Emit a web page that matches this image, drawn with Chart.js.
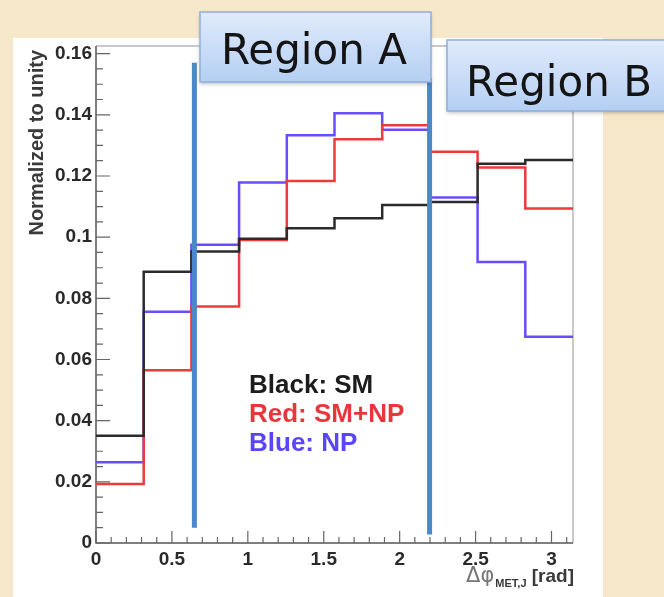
<!DOCTYPE html>
<html>
<head>
<meta charset="utf-8">
<script src="https://cdn.jsdelivr.net/npm/chart.js@4.4.1/dist/chart.umd.min.js"></script>
<style>
  html, body { margin: 0; padding: 0; background: #f8e8cb; }
  canvas { display: block; }
</style>
</head>
<body>
<canvas id="grafico" width="664" height="597"></canvas>
<script>
// histogram binning: 10 bins from 0 to pi
const nBins = 10;
const xMax = Math.PI;

// bin contents (normalized to unity)
const smValues   = [0.0351, 0.0887, 0.0953, 0.0995, 0.1029, 0.1062, 0.1105, 0.1115, 0.1240, 0.1252];
const smNpValues = [0.0193, 0.0565, 0.0773, 0.0991, 0.1184, 0.1320, 0.1366, 0.1279, 0.1228, 0.1094];
const npValues   = [0.0264, 0.0756, 0.0975, 0.1179, 0.1333, 0.1405, 0.1351, 0.1130, 0.0919, 0.0674];

// axis ticks
const xTickValues = [0, 0.5, 1, 1.5, 2, 2.5, 3];
const xTickLabels = ['0', '0.5', '1', '1.5', '2', '2.5', '3'];
const yTickValues = [0, 0.02, 0.04, 0.06, 0.08, 0.1, 0.12, 0.14, 0.16];
const yTickLabels = ['0', '0.02', '0.04', '0.06', '0.08', '0.1', '0.12', '0.14', '0.16'];

// region boundaries (x in rad)
const regionCuts = [0.648, 2.197];

const legendLines = [
  { text: 'Black: SM', color: '#1c1c1c' },
  { text: 'Red: SM+NP', color: '#e8363c' },
  { text: 'Blue: NP', color: '#5b46f5' }
];

const binW = xMax / nBins;

// turns bin contents into step points (left edges + closing point at xMax)
function pontosHisto(valores) {
  const pts = valores.map((v, i) => ({ x: i * binW, y: v }));
  pts.push({ x: xMax, y: valores[valores.length - 1] });
  return pts;
}

const fundo = {
  id: 'fundo',
  beforeDraw(chart) {
    const c = chart.ctx;
    c.save();
    c.fillStyle = '#f8e8cb';
    c.fillRect(0, 0, chart.width, chart.height);
    c.fillStyle = '#ffffff';
    c.fillRect(13, 38, 590, 559);
    c.restore();
  }
};

const moldura = {
  id: 'moldura',
  beforeDatasetsDraw(chart) {
    const c = chart.ctx;
    const a = chart.chartArea;
    const xs = chart.scales.x, ys = chart.scales.y;
    c.save();
    // top / right frame (light)
    c.strokeStyle = '#c9c9c9';
    c.lineWidth = 2;
    c.beginPath();
    c.moveTo(a.left, a.top); c.lineTo(a.right, a.top); c.lineTo(a.right, a.bottom);
    c.stroke();
    // axes
    c.strokeStyle = '#555';
    c.lineWidth = 1.5;
    c.beginPath();
    c.moveTo(a.left, a.top); c.lineTo(a.left, a.bottom); c.lineTo(a.right, a.bottom);
    c.stroke();
    // ticks inside the frame
    c.lineWidth = 1.2;
    c.strokeStyle = '#666';
    c.beginPath();
    for (let k = 0; k <= 31; k++) {
      const v = k * 0.1;
      if (v > xMax) break;
      const px = xs.getPixelForValue(v);
      const len = (k % 5 === 0) ? 12 : 6;
      c.moveTo(px, a.bottom); c.lineTo(px, a.bottom - len);
    }
    for (let k = 0; k <= 32; k++) {
      const v = k * 0.005;
      if (v > ys.max) break;
      const py = ys.getPixelForValue(v);
      const len = (k % 4 === 0) ? 14 : 7;
      c.moveTo(a.left, py); c.lineTo(a.left + len, py);
    }
    c.stroke();
    c.restore();
  }
};

function caixa(c, x, y, w, h, texto, tx, ty) {
  c.save();
  c.shadowColor = 'rgba(0,0,0,0.25)';
  c.shadowBlur = 4;
  c.shadowOffsetY = 2;
  const g = c.createLinearGradient(0, y, 0, y + h);
  g.addColorStop(0, '#e1ebfb');
  g.addColorStop(1, '#b4cff3');
  c.fillStyle = g;
  c.fillRect(x, y, w, h);
  c.shadowColor = 'transparent';
  c.strokeStyle = '#8eaedb';
  c.lineWidth = 1.5;
  c.strokeRect(x, y, w, h);
  c.fillStyle = '#141414';
  c.font = '42px "DejaVu Sans"';
  c.textAlign = 'left';
  c.textBaseline = 'alphabetic';
  c.fillText(texto, tx, ty);
  c.restore();
}

const anotacoes = {
  id: 'anotacoes',
  afterDraw(chart) {
    const c = chart.ctx;
    const a = chart.chartArea;
    const xs = chart.scales.x, ys = chart.scales.y;
    c.save();

    // region boundary lines
    c.strokeStyle = '#4a88c6';
    c.lineWidth = 5;
    c.beginPath();
    const x1 = xs.getPixelForValue(regionCuts[0]);
    c.moveTo(x1, ys.getPixelForValue(0.157)); c.lineTo(x1, ys.getPixelForValue(0.005));
    const x2 = xs.getPixelForValue(regionCuts[1]);
    c.moveTo(x2, ys.getPixelForValue(0.152)); c.lineTo(x2, ys.getPixelForValue(0.0028));
    c.stroke();

    // legend text
    c.font = 'bold 26px "Liberation Sans"';
    c.textAlign = 'left';
    c.textBaseline = 'alphabetic';
    legendLines.forEach((l, i) => {
      c.fillStyle = l.color;
      c.fillText(l.text, 249, 393 + i * 29);
    });

    // y axis title
    c.save();
    c.translate(37, 50);
    c.rotate(-Math.PI / 2);
    c.font = 'bold 20px "Liberation Sans"';
    c.fillStyle = '#3a3a3a';
    c.textAlign = 'right';
    c.textBaseline = 'middle';
    c.fillText('Normalized to unity', 0, 0);
    c.restore();

    // x axis title, right aligned to frame
    const base = 582;
    let xr = a.right + 1;
    c.textAlign = 'right';
    c.textBaseline = 'alphabetic';
    c.fillStyle = '#3a3a3a';
    c.font = 'bold 19px "Liberation Sans"';
    c.fillText(' [rad]', xr, base);
    xr -= c.measureText(' [rad]').width;
    c.font = 'bold 11px "Liberation Sans"';
    c.fillText('MET,J', xr, base + 5);
    xr -= c.measureText('MET,J').width + 1;
    c.font = '21px "DejaVu Sans"';
    c.fillStyle = '#777';
    c.fillText('\u0394\u03c6', xr, base);

    c.restore();

    // overlay boxes
    caixa(c, 200, 12, 231, 70, 'Region A', 221, 64);
    caixa(c, 447, 40, 225, 71, 'Region B', 466, 96);
  }
};

const ctx = document.getElementById('grafico').getContext('2d');

const serie = (label, valores, cor) => ({
  label: label,
  data: pontosHisto(valores),
  borderColor: cor,
  backgroundColor: cor,
  borderWidth: 2.5,
  stepped: 'before',
  pointRadius: 0,
  fill: false
});

new Chart(ctx, {
  type: 'line',
  data: {
    datasets: [
      serie('SM', smValues, '#2b2b2b'),
      serie('SM+NP', smNpValues, '#ee3a3a'),
      serie('NP', npValues, '#6a4cff')
    ]
  },
  options: {
    responsive: false,
    animation: false,
    layout: { padding: { top: 46, right: 91, left: 0, bottom: 0 } },
    plugins: {
      legend: { display: false },
      tooltip: { enabled: false }
    },
    scales: {
      x: {
        type: 'linear',
        min: 0,
        max: xMax,
        afterBuildTicks: s => { s.ticks = xTickValues.map(v => ({ value: v })); },
        afterFit: s => { s.height = 54; },
        grid: { display: false, drawTicks: false },
        border: { display: false },
        ticks: {
          padding: 5,
          color: '#2a2a2a',
          font: { family: 'Liberation Sans', size: 19, weight: 'bold' },
          maxRotation: 0,
          callback: (v, i) => xTickLabels[i]
        }
      },
      y: {
        type: 'linear',
        min: 0,
        max: 0.1625,
        afterBuildTicks: s => { s.ticks = yTickValues.map(v => ({ value: v })); },
        afterFit: s => { s.width = 96; },
        grid: { display: false, drawTicks: false },
        border: { display: false },
        ticks: {
          padding: 4,
          color: '#2a2a2a',
          font: { family: 'Liberation Sans', size: 19, weight: 'bold' },
          callback: (v, i) => yTickLabels[i]
        }
      }
    }
  },
  plugins: [fundo, moldura, anotacoes]
});
</script>
</body>
</html>
